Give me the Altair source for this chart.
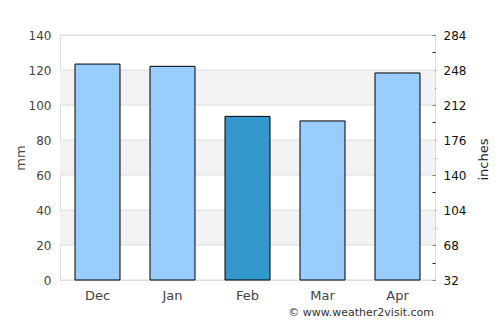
import altair as alt
import pandas as pd

months = ["Dec", "Jan", "Feb", "Mar", "Apr"]
rain_mm = [123.4, 122.1, 93.5, 90.9, 118.3]
highlight = ["no", "no", "yes", "no", "no"]
band_lo = [20, 60, 100]
band_hi = [40, 80, 120]
mm_ticks = [0, 20, 40, 60, 80, 100, 120, 140]
inch_ticks = [32, 50, 68, 86, 104, 122, 140, 158, 176, 194, 212, 230, 248, 266, 284]
credit = "© www.weather2visit.com"

df = pd.DataFrame({"month": months, "mm": rain_mm, "hl": highlight})
bands = pd.DataFrame({"lo": band_lo, "hi": band_hi})
grid = pd.DataFrame({"v": mm_ticks})
inch = pd.DataFrame({"v": inch_ticks})

yscale = alt.Scale(domain=[0, 140], nice=False, zero=True)

band_layer = alt.Chart(bands).mark_rect(color="#f2f2f2").encode(
    y=alt.Y("lo:Q", scale=yscale, axis=None),
    y2="hi:Q",
)

grid_layer = alt.Chart(grid).mark_rule(color="#dddddd", strokeWidth=1).encode(
    y=alt.Y("v:Q", scale=yscale, axis=None),
)

bars = alt.Chart(df).mark_bar(stroke="#000000", strokeWidth=1).encode(
    x=alt.X(
        "month:N",
        sort=months,
        scale=alt.Scale(paddingInner=0.4, paddingOuter=0.2),
        axis=alt.Axis(
            title=None, labelAngle=0, ticks=False, tickSize=0, domain=False,
            labelPadding=9, labelFontSize=13, labelColor="#444444",
        ),
    ),
    y=alt.Y(
        "mm:Q",
        scale=yscale,
        axis=alt.Axis(
            title="mm", values=mm_ticks, grid=False, ticks=False, tickSize=0,
            domain=False, labelPadding=9, labelFontSize=12, labelColor="#444444",
            titleFontSize=13, titleFontWeight="normal", titleColor="#444444",
            titleX=-40, titleY=122.5, titleAngle=-90, titleAlign="center",
            titleBaseline="middle",
        ),
    ),
    color=alt.Color(
        "hl:N",
        scale=alt.Scale(domain=["no", "yes"], range=["#99ccff", "#3399cc"]),
        legend=None,
    ),
)

right = alt.Chart(inch).mark_point(opacity=0).encode(
    y=alt.Y(
        "v:Q",
        scale=alt.Scale(domain=[32, 284], nice=False, zero=False),
        axis=alt.Axis(
            orient="right", title="inches", values=inch_ticks, grid=False,
            domain=False, ticks=True, tickSize=3, tickColor="#222222",
            offset=-3, labelPadding=8, labelFontSize=12, labelColor="#111111",
            labelExpr="(datum.value - 32) % 36 == 0 ? datum.label : ''",
            titleFontSize=13, titleFontWeight="normal", titleColor="#222222",
            titleX=51, titleY=124, titleAngle=-90, titleAlign="center",
            titleBaseline="middle",
        ),
    ),
)

credit_layer = alt.Chart(pd.DataFrame({"t": [credit]})).mark_text(
    align="right", baseline="middle", fontSize=11, color="#333333"
).encode(
    text="t:N",
    x=alt.value(374),
    y=alt.value(278),
)

chart = alt.layer(band_layer, grid_layer, bars, right, credit_layer).resolve_scale(
    y="independent"
).properties(
    width=375,
    height=245,
    autosize=alt.AutoSizeParams(type="none"),
    padding={"left": 60, "top": 35, "right": 65, "bottom": 45},
    background="white",
).configure(
    font="DejaVu Sans",
).configure_view(
    stroke="#dddddd",
    strokeWidth=1,
)

chart.save("out.html", embed_options={"renderer": "svg", "actions": False})
